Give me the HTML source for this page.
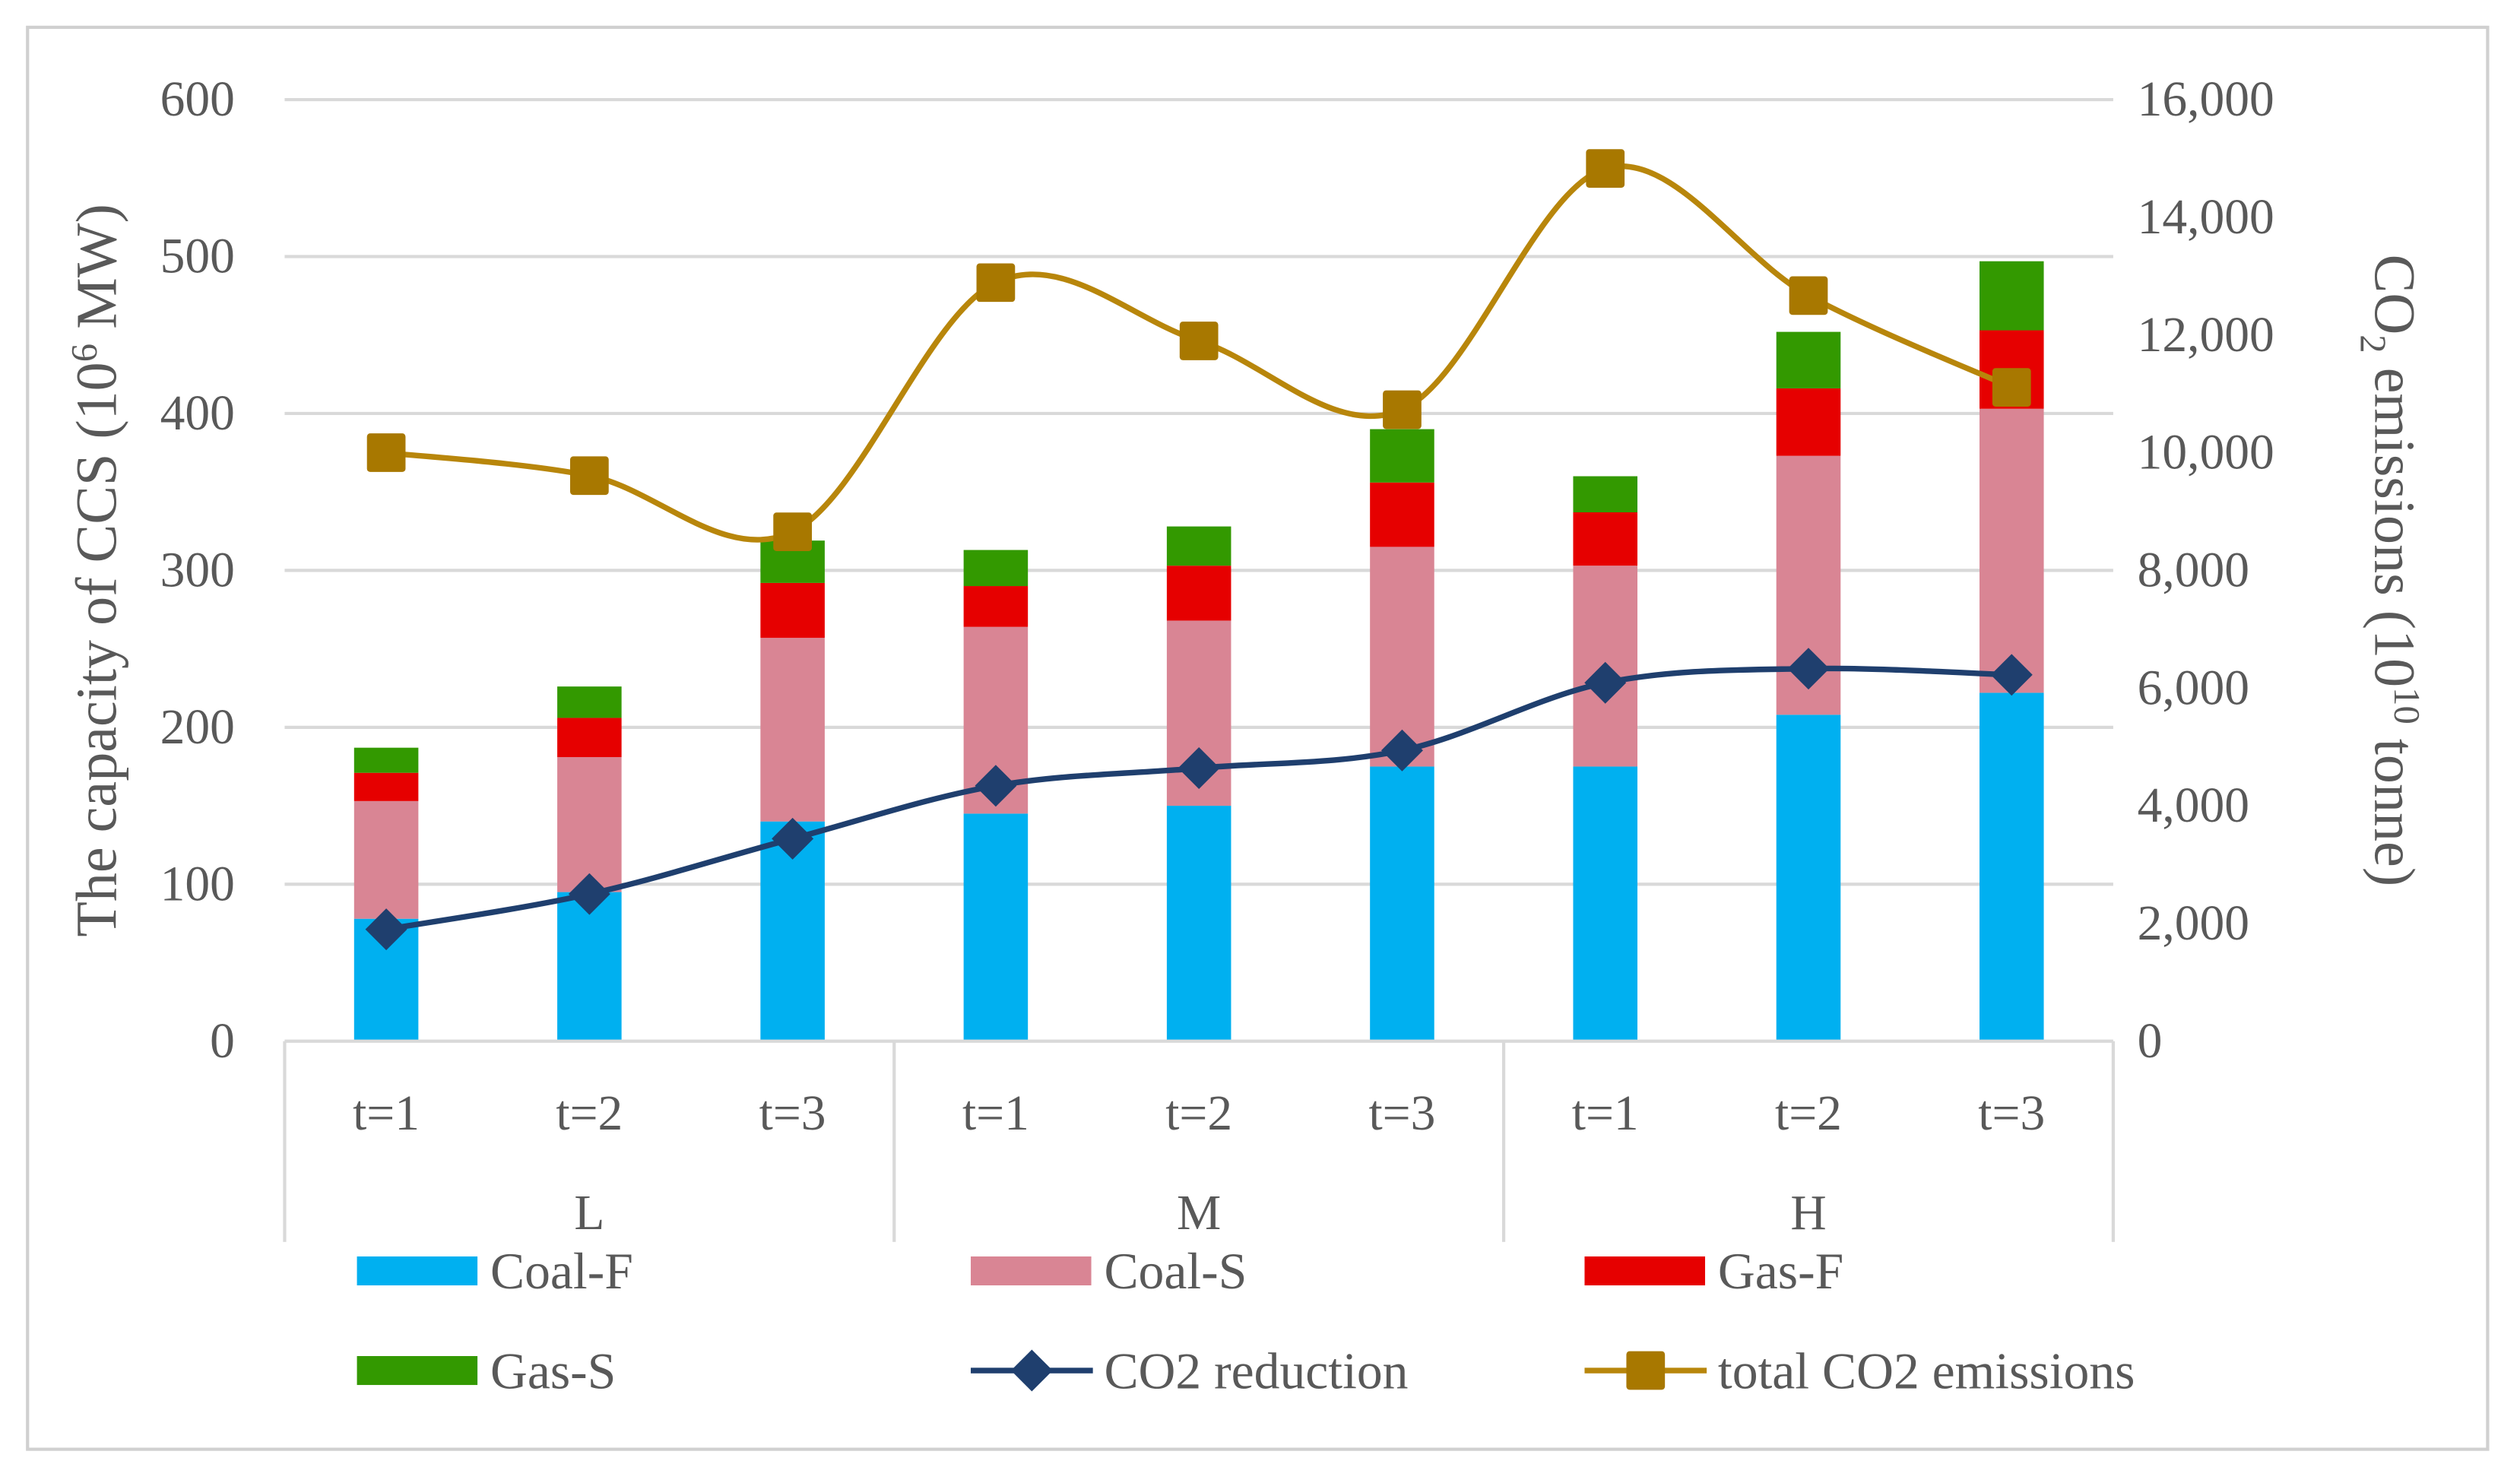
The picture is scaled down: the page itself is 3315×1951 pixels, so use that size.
<!DOCTYPE html>
<html><head><meta charset="utf-8"><style>
html,body{margin:0;padding:0;background:#fff;}
svg{display:block;}
text{font-family:"Liberation Serif",serif;fill:#595959;}
</style></head><body>
<svg id="chart" width="3315" height="1951" viewBox="0 0 1568 923" xmlns="http://www.w3.org/2000/svg">
<rect x="17" y="17" width="1531" height="885" fill="#fff" stroke="#d0d0d0" stroke-width="2"/>
<g id="grid"></g><g id="bars"></g><g id="lines"></g><g id="axes"></g><g id="legend"></g>
</svg>
<script>
const categories=["t=1","t=2","t=3","t=1","t=2","t=3","t=1","t=2","t=3"];
const groups=["L","M","H"];
const coalF=[78,95,140,145,150,175,175,208,222];
const coalS=[75,86,117,119,118,140,128,165,181];
const gasF=[18,25,35,26,35,41,34,43,50];
const gasS=[16,20,27,23,25,34,23,36,44];
const co2Reduction=[1900,2500,3440,4340,4640,4940,6090,6330,6225];
const totalCO2=[10000,9610,8655,12890,11900,10730,14830,12670,11110];
const leftTicks=[0,100,200,300,400,500,600];
const rightTicks=["0","2,000","4,000","6,000","8,000","10,000","12,000","14,000","16,000"];

const NS="http://www.w3.org/2000/svg";
const X0=177,X1=1315,Y0=648,Y1=62;
const band=(X1-X0)/categories.length;
const xc=i=>X0+band*(i+0.5);
const yL=v=>Y0-(v/600)*(Y0-Y1);
const yR=v=>Y0-(v/16000)*(Y0-Y1);
function mk(tag,attrs,parent,txt){const e=document.createElementNS(NS,tag);for(const k in attrs)e.setAttribute(k,attrs[k]);if(txt!==undefined)e.textContent=txt;document.getElementById(parent).appendChild(e);return e;}

leftTicks.forEach((t,i)=>{
  if(t>0){const g=mk("line",{x1:X0,x2:X1,y1:yL(t),y2:yL(t),stroke:"#d9d9d9","stroke-width":2},"grid");
  
  }
  const l=mk("text",{x:146,y:yL(t)+10,"text-anchor":"end","font-size":31},"axes",String(t));
  
  
});
rightTicks.forEach((t,i)=>{
  const l=mk("text",{x:1330,y:yR(i*2000)+10,"font-size":31},"axes",t);
  
  
});

const series=[[coalF,"#00B0F0"],[coalS,"#D98594"],[gasF,"#E60000"],[gasS,"#339900"]];
const names=["coal-f","coal-s","gas-f","gas-s"];
categories.forEach((c,i)=>{
  let base=0;
  series.forEach(([arr,col],s)=>{
    const r=mk("rect",{x:xc(i)-20,y:yL(base+arr[i]),width:40,height:yL(base)-yL(base+arr[i]),fill:col},"bars");
    
    
    base+=arr[i];
  });
  const t=mk("text",{x:xc(i),y:703,"text-anchor":"middle","font-size":31},"axes",c);
  
  
});
groups.forEach((g,j)=>{
  const t=mk("text",{x:X0+band*3*(j+0.5),y:765,"text-anchor":"middle","font-size":31},"axes",g);
  
  
});
const ax=mk("line",{x1:X0,x2:X1,y1:Y0,y2:Y0,stroke:"#d9d9d9","stroke-width":2},"axes");


[0,3,6,9].forEach(k=>{
  const s=mk("line",{x1:X0+band*k,x2:X0+band*k,y1:Y0,y2:773,stroke:"#d9d9d9","stroke-width":2},"axes");
  
  
});

function smooth(pts){
  let d="M"+pts[0][0]+","+pts[0][1];
  for(let i=0;i<pts.length-1;i++){
    const p0=pts[i-1]||pts[i],p1=pts[i],p2=pts[i+1],p3=pts[i+2]||p2;
    const c1=[p1[0]+(p2[0]-p0[0])/6,p1[1]+(p2[1]-p0[1])/6];
    const c2=[p2[0]-(p3[0]-p1[0])/6,p2[1]-(p3[1]-p1[1])/6];
    d+=" C"+c1+" "+c2+" "+p2;
  }
  return d;
}
const redPts=co2Reduction.map((v,i)=>[xc(i),yR(v)]);
const totPts=totalCO2.map((v,i)=>[xc(i),yR(v)]);
const l1=mk("path",{d:smooth(redPts),fill:"none",stroke:"#1F3F6E","stroke-width":3.5},"lines");


const l2=mk("path",{d:smooth(totPts),fill:"none",stroke:"#B8860B","stroke-width":3.5},"lines");


redPts.forEach(p=>{
  const m=mk("polygon",{points:`${p[0]},${p[1]-13} ${p[0]+13},${p[1]} ${p[0]},${p[1]+13} ${p[0]-13},${p[1]}`,fill:"#1F3F6E"},"lines");
  
  
});
totPts.forEach(p=>{
  const m=mk("rect",{x:p[0]-12,y:p[1]-12,width:24,height:24,rx:2,fill:"#A87800"},"lines");
  
  
});

const lt=mk("text",{transform:"translate(72,355) rotate(-90)","text-anchor":"middle","font-size":36},"axes");


lt.innerHTML='The capacity of CCS (10<tspan dy="-12" font-size="23">6</tspan><tspan dy="12"> MW)</tspan>';
const rt=mk("text",{transform:"translate(1478,355) rotate(90)","text-anchor":"middle","font-size":36},"axes");


rt.innerHTML='CO<tspan dy="9" font-size="23">2</tspan><tspan dy="-9"> emissions (10</tspan><tspan dy="-12" font-size="23">10</tspan><tspan dy="12"> tonne)</tspan>';

const leg=[["Coal-F","#00B0F0",222,791,"box"],["Coal-S","#D98594",604,791,"box"],["Gas-F","#E60000",986,791,"box"],
["Gas-S","#339900",222,853,"box"],["CO2 reduction","#1F3F6E",604,853,"dia"],["total CO2 emissions","#B8860B",986,853,"sq"]];
leg.forEach(([n,c,x,y,t])=>{
  if(t==="box"){const s=mk("rect",{x:x,y:y-9,width:75,height:18,fill:c},"legend");
    
    }
  else{const s=mk("line",{x1:x,x2:x+76,y1:y,y2:y,stroke:c,"stroke-width":3.5},"legend");
    
    
    const cx=x+38;
    const m=t==="dia"?mk("polygon",{points:`${cx},${y-13} ${cx+13},${y} ${cx},${y+13} ${cx-13},${y}`,fill:c},"legend"):mk("rect",{x:cx-12,y:y-12,width:24,height:24,rx:2,fill:"#A87800"},"legend");
    
    }
  const tx=mk("text",{x:x+83,y:y+11,"font-size":32},"legend",n);
  
  
});
</script>
</body></html>
